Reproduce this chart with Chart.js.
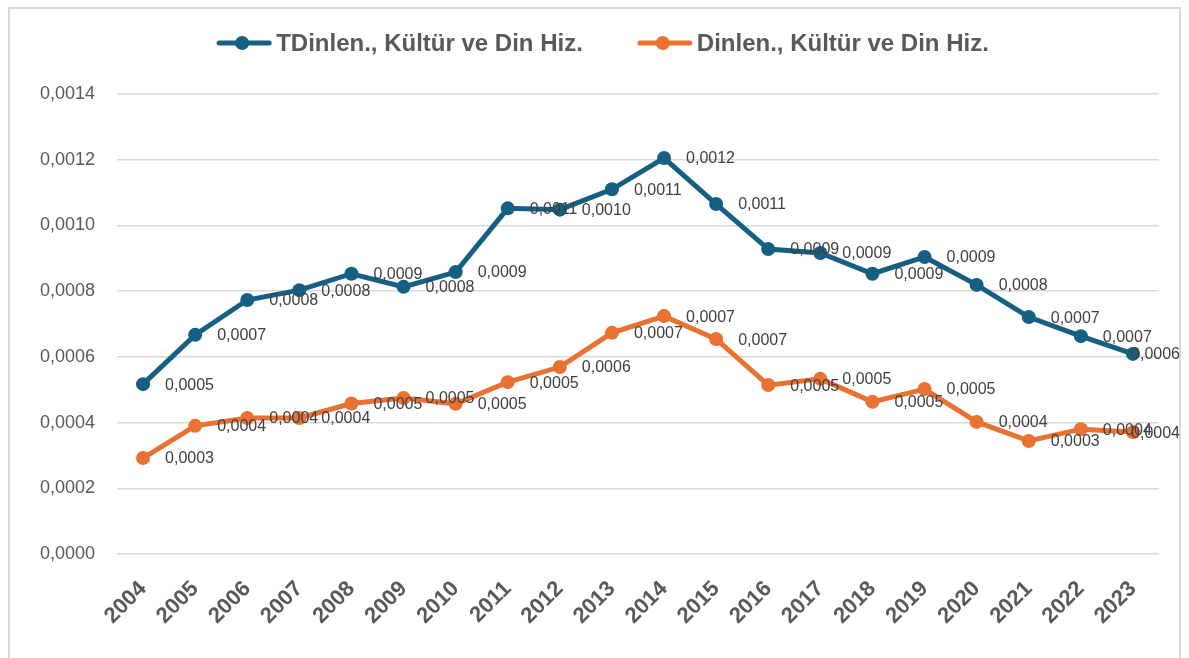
<!DOCTYPE html>
<html lang="tr">
<head>
<meta charset="utf-8">
<title>Dinlen., Kültür ve Din Hiz.</title>
<style>
  html, body { margin: 0; padding: 0; background: #fff; }
  #frame { position: absolute; left: 8px; top: 7px; width: 1173px; height: 700px; border: 2px solid #d9d9d9; box-sizing: border-box; }
  #wrap { position: absolute; left: 0; top: 0; width: 1189px; height: 658px; }
</style>
</head>
<body>
<div id="frame"></div>
<div id="wrap"><canvas id="chart"></canvas></div>
<script src="https://cdn.jsdelivr.net/npm/chart.js@4.4.1/dist/chart.umd.min.js"></script>
<script>
const years = ['2004', '2005', '2006', '2007', '2008', '2009', '2010', '2011', '2012', '2013',
               '2014', '2015', '2016', '2017', '2018', '2019', '2020', '2021', '2022', '2023'];
const tValues = [0.000517, 0.000667, 0.000773, 0.000803, 0.000853, 0.000813, 0.000858, 0.001052, 0.001048, 0.00111,
                 0.001205, 0.001065, 0.000928, 0.000916, 0.000853, 0.000904, 0.000819, 0.000721, 0.000663, 0.000609];
const dValues = [0.000292, 0.00039, 0.000414, 0.000414, 0.000458, 0.000475, 0.000457, 0.000523, 0.000569, 0.000673,
                 0.000724, 0.000654, 0.000514, 0.000533, 0.000463, 0.000502, 0.000402, 0.000344, 0.00038, 0.000371];
const tName = 'TDinlen., Kültür ve Din Hiz.';
const dName = 'Dinlen., Kültür ve Din Hiz.';

const fmt = v => v.toFixed(4).replace('.', ',');
const FONT = '"Liberation Sans", Arial, sans-serif';

// value labels to the right of every point, pulled back in at the right edge
const valueLabels = {
  id: 'valueLabels',
  afterDatasetsDraw(chart) {
    const ctx = chart.ctx;
    ctx.save();
    ctx.font = '16px ' + FONT;
    ctx.fillStyle = '#404040';
    ctx.textAlign = 'left';
    ctx.textBaseline = 'middle';
    chart.data.datasets.forEach((ds, i) => {
      chart.getDatasetMeta(i).data.forEach((pt, j) => {
        const txt = fmt(ds.data[j]);
        const w = ctx.measureText(txt).width;
        const x = Math.min(pt.x + 22, chart.width - 9 - w);
        ctx.fillText(txt, x, pt.y + 1);
      });
    });
    ctx.restore();
  }
};

// line + marker legend, like the spreadsheet one
const lineLegend = {
  id: 'lineLegend',
  afterDraw(chart) {
    const ctx = chart.ctx;
    ctx.save();
    ctx.font = 'bold 24px ' + FONT;
    const items = chart.data.datasets.map(ds => ({ ds, w: 59 + ctx.measureText(ds.label).width }));
    const gap = 55;
    const total = items.reduce((s, it) => s + it.w, 0) + gap * (items.length - 1);
    let x = 603 - total / 2;
    const y = 43;
    items.forEach(it => {
      ctx.strokeStyle = it.ds.borderColor;
      ctx.lineWidth = 5;
      ctx.lineCap = 'round';
      ctx.beginPath();
      ctx.moveTo(x + 2, y);
      ctx.lineTo(x + 52, y);
      ctx.stroke();
      ctx.fillStyle = it.ds.borderColor;
      ctx.beginPath();
      ctx.arc(x + 25, y, 7, 0, Math.PI * 2);
      ctx.fill();
      ctx.fillStyle = '#595959';
      ctx.textAlign = 'left';
      ctx.textBaseline = 'middle';
      ctx.fillText(it.ds.label, x + 59, y + 1);
      x += it.w + gap;
    });
    ctx.restore();
  }
};

new Chart(document.getElementById('chart'), {
  type: 'line',
  data: {
    labels: years,
    datasets: [
      {
        label: tName,
        data: tValues,
        borderColor: '#156082',
        backgroundColor: '#156082',
        borderWidth: 5,
        pointRadius: 7,
        pointHoverRadius: 7,
        pointBorderWidth: 0,
        tension: 0
      },
      {
        label: dName,
        data: dValues,
        borderColor: '#E97132',
        backgroundColor: '#E97132',
        borderWidth: 5,
        pointRadius: 7,
        pointHoverRadius: 7,
        pointBorderWidth: 0,
        tension: 0
      }
    ]
  },
  options: {
    responsive: true,
    maintainAspectRatio: false,
    animation: false,
    layout: { padding: { left: 0, right: 30, top: 94, bottom: 0 } },
    plugins: {
      legend: { display: false },
      tooltip: { enabled: false }
    },
    scales: {
      x: {
        offset: true,
        grid: { display: false },
        border: { display: false },
        ticks: {
          color: '#595959',
          font: { family: FONT, size: 22, weight: 'bold' },
          minRotation: 45,
          maxRotation: 45,
          padding: 14
        },
        afterFit(scale) { scale.height = 104; }
      },
      y: {
        min: 0,
        max: 0.0014,
        grid: { color: '#d9d9d9', lineWidth: 1.5, drawTicks: false },
        border: { display: false },
        ticks: {
          stepSize: 0.0002,
          color: '#595959',
          font: { family: FONT, size: 18 },
          padding: 22,
          callback: v => fmt(v)
        },
        afterFit(scale) { scale.width = 117; }
      }
    }
  },
  plugins: [valueLabels, lineLegend]
});
</script>
</body>
</html>
